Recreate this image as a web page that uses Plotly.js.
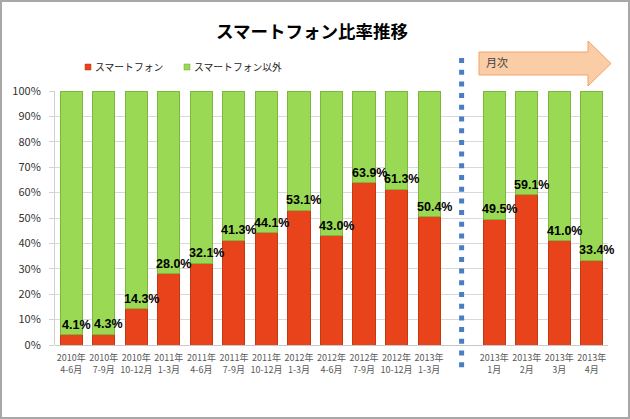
<!DOCTYPE html>
<html><head><meta charset="utf-8">
<script src="https://cdn.plot.ly/plotly-3.0.1.min.js"></script>
<style>
html,body{margin:0;padding:0;background:#fff}
#c{width:630px;height:419px}
#f{position:absolute;left:0;top:0;width:630px;height:419px;box-sizing:border-box;border:2px solid #a8a8a8;pointer-events:none}
</style>
</head><body><div id="c"></div><div id="f"></div>
<script>
// Quarterly periods
const quarterYears = ["2010年","2010年","2010年","2011年","2011年","2011年","2011年","2012年","2012年","2012年","2012年","2013年"];
const quarterPeriods = ["4-6月","7-9月","10-12月","1-3月","4-6月","7-9月","10-12月","1-3月","4-6月","7-9月","10-12月","1-3月"];
// Monthly periods
const monthYears = ["2013年","2013年","2013年","2013年"];
const monthPeriods = ["1月","2月","3月","4月"];
// Smartphone share (%)
const smartQuarter = [4.1, 4.3, 14.3, 28.0, 32.1, 41.3, 44.1, 53.1, 43.0, 63.9, 61.3, 50.4];
const smartMonth = [49.5, 59.1, 41.0, 33.4];
// Non-smartphone share (%)
const otherQuarter = [95.9, 95.7, 85.7, 72.0, 67.9, 58.7, 55.9, 46.9, 57.0, 36.1, 38.7, 49.6];
const otherMonth = [50.5, 40.9, 59.0, 66.6];
const seriesNames = ["スマートフォン", "スマートフォン以外"];
const yTicks = [0,10,20,30,40,50,60,70,80,90,100];

const qPos = quarterYears.map((_, i) => i);
const mPos = monthYears.map((_, i) => quarterYears.length + 1 + i);
const xPos = qPos.concat(mPos);
const tickText = quarterYears.map((y, i) => y + "<br>" + quarterPeriods[i])
  .concat(monthYears.map((y, i) => y + "<br>" + monthPeriods[i]));
const smart = smartQuarter.concat(smartMonth);
const other = otherQuarter.concat(otherMonth);
const gapPos = quarterYears.length;
const nSlots = quarterYears.length + 1 + monthYears.length;

const jp = '"Noto Sans CJK JP", sans-serif';
const RED = '#E8431B', GREEN = '#9AD954';

const traces = [
  {type:'bar', name:seriesNames[0], x:xPos, y:smart, width:0.68,
   marker:{color:RED, line:{color:'#C23A12', width:1}}, hoverinfo:'skip'},
  {type:'bar', name:seriesNames[1], x:xPos, y:other, width:0.68,
   marker:{color:GREEN, line:{color:'#7DB53E', width:1}}, hoverinfo:'skip'}
];

const annotations = smart.map((v, i) => ({
  x: xPos[i], y: v, xref:'x', yref:'y', text: v.toFixed(1) + '%', showarrow:false,
  yshift: 10, xshift: 5,
  font:{family:'"Liberation Sans", Arial, sans-serif', size:12.5, color:'#000', weight:'bold'}
}));

// plot domain pixels: left 55, right 608, top 91, bottom 345
const L = 55, R = 608, T = 91, B = 345;
const px = v => (v - L) / (R - L);
const py = v => (B - v) / (B - T);

annotations.push({
  xref:'paper', yref:'paper', x: px(484), y: py(62), xanchor:'left', yanchor:'middle',
  text:'月次', showarrow:false, font:{family:jp, size:11, color:'#404040'}
});

// custom legend
const legendX = [85, 184];
const legendColors = [[RED, '#B8350F'], [GREEN, '#6FA533']];
const shapes = [];
seriesNames.forEach((n, i) => {
  shapes.push({type:'rect', xref:'paper', yref:'paper', x0:px(legendX[i]), x1:px(legendX[i] + 6),
    y0:py(70), y1:py(64), fillcolor:legendColors[i][0], line:{color:legendColors[i][1], width:0.5}});
  annotations.push({xref:'paper', yref:'paper', x:px(legendX[i] + 8), y:py(67), xanchor:'left', yanchor:'middle',
    text:n, showarrow:false, font:{family:jp, size:9.8, color:'#222'}});
});

const gapX = (gapPos + 0.5) / nSlots;
const arrowPath = 'M' + px(479) + ',' + py(52) + ' L' + px(588) + ',' + py(52) + ' L' + px(588) + ',' + py(41) +
  ' L' + px(611) + ',' + py(63.5) + ' L' + px(588) + ',' + py(86) + ' L' + px(588) + ',' + py(75) +
  ' L' + px(479) + ',' + py(75) + ' Z';

shapes.push(
  {type:'line', xref:'paper', yref:'paper', x0:gapX, x1:gapX, y0:py(58), y1:py(374),
   line:{color:'#4A7EC2', width:5, dash:'5px,6.7px'}},
  {type:'path', xref:'paper', yref:'paper', path:arrowPath,
   fillcolor:'#FBCDA6', line:{color:'#F2A168', width:1}, layer:'above'}
);

const layout = {
  width:630, height:419,
  margin:{l:L, r:630-R, t:T, b:419-B, pad:0},
  paper_bgcolor:'#fff', plot_bgcolor:'#fff',
  barmode:'stack',
  title:{text:'スマートフォン比率推移', x:312/630, xref:'container', xanchor:'center', y:1-31.5/419, yanchor:'middle',
         font:{family:jp, size:17.5, color:'#000', weight:'bold'}},
  showlegend:false,
  xaxis:{range:[-0.5, nSlots - 0.5], tickmode:'array', tickvals:xPos, ticktext:tickText,
         tickfont:{family:jp, size:9, color:'#595959'}, showgrid:false, zeroline:false,
         showline:false, ticks:'', ticklabelstandoff:6, fixedrange:true, tickangle:0},
  yaxis:{range:[0,100], tickmode:'array', tickvals:yTicks, ticktext:yTicks.map(t => t + '%'),
         tickfont:{family:jp, size:11, color:'#333'}, showgrid:true, gridcolor:'#D9D9D9', gridwidth:1,
         zeroline:true, zerolinecolor:'#C8C8C8', zerolinewidth:1,
         showline:true, linecolor:'#D0D0D0', linewidth:1,
         ticks:'outside', ticklen:5, tickcolor:'#D0D0D0', ticklabelstandoff:6, fixedrange:true}
};
layout.annotations = annotations;
layout.shapes = shapes;

Plotly.newPlot('c', traces, layout, {staticPlot:true, displayModeBar:false});
</script>
</body></html>
